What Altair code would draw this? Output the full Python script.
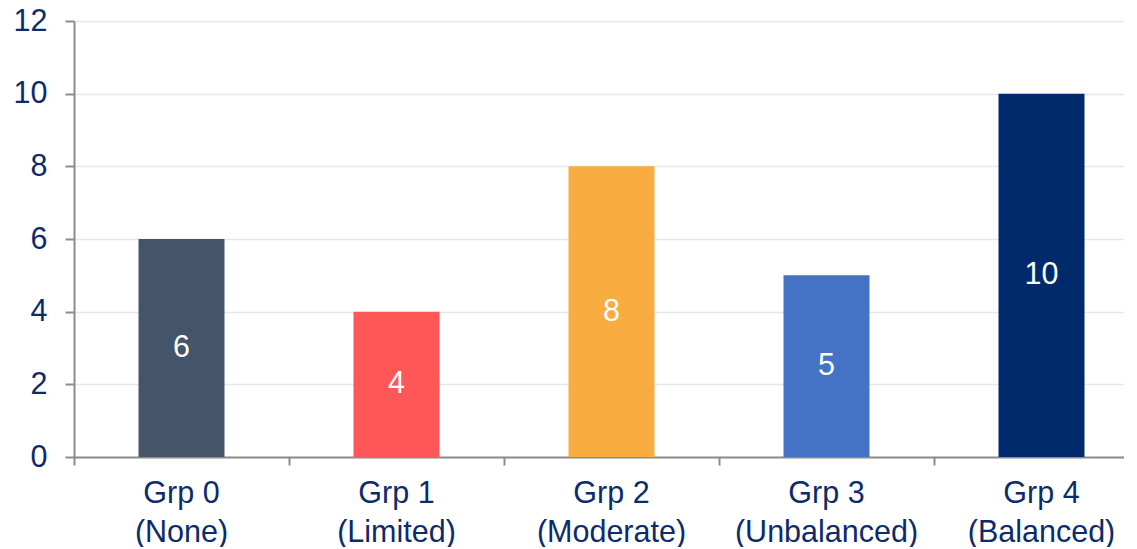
import altair as alt
import pandas as pd

groups = ["Grp 0", "Grp 1", "Grp 2", "Grp 3", "Grp 4"]
descs = ["(None)", "(Limited)", "(Moderate)", "(Unbalanced)", "(Balanced)"]
values = [6, 4, 8, 5, 10]
colors = ["#44546A", "#FF5757", "#F9AC40", "#4472C4", "#012A6C"]

cats = [g + "|" + d for g, d in zip(groups, descs)]
df = pd.DataFrame({"cat": cats, "value": values, "color": colors})

navy = "#0D2B6B"
grey = "#8C8C8C"
fs = 30.5

x = alt.X("cat:N", sort=cats, title=None,
          scale=alt.Scale(paddingInner=0, paddingOuter=0, range=[0, 1075]),
          axis=alt.Axis(labelExpr="split(datum.label, '|')", labelAngle=0,
                        labelFont="Liberation Sans", labelFontSize=fs,
                        labelColor=navy, labelLineHeight=39, labelPadding=13,
                        labelLimit=500, labelOverlap=False,
                        tickColor=grey, tickWidth=2, tickSize=8, bandPosition=0,
                        domainColor=grey, domainWidth=2, grid=False))

bars = alt.Chart(df).mark_bar(width=alt.RelativeBandSize(0.4)).encode(
    x=x,
    y=alt.Y("value:Q", title=None,
            scale=alt.Scale(domain=[0, 12], nice=False),
            axis=alt.Axis(values=[0, 2, 4, 6, 8, 10, 12],
                          labelFont="Liberation Sans", labelFontSize=fs,
                          labelColor=navy, labelPadding=18,
                          tickColor=grey, tickWidth=2, tickSize=9,
                          domainColor=grey, domainWidth=2,
                          gridColor="#E3E8F0", gridWidth=1.5)),
    color=alt.Color("color:N", scale=None),
)

labels = alt.Chart(df).transform_calculate(mid="datum.value / 2").mark_text(
    color="white", font="Liberation Sans", fontSize=fs, baseline="middle"
).encode(
    x=alt.X("cat:N", sort=cats),
    y=alt.Y("mid:Q"),
    text=alt.Text("value:Q"),
)

chart = alt.layer(bars, labels).properties(
    width=1050, height=436,
    autosize=alt.AutoSizeParams(type="none"),
    padding={"left": 66, "top": 13, "right": 0, "bottom": 90},
).configure_view(stroke=None, clip=False)

chart.save("out.html", embed_options={"renderer": "svg", "actions": False})
